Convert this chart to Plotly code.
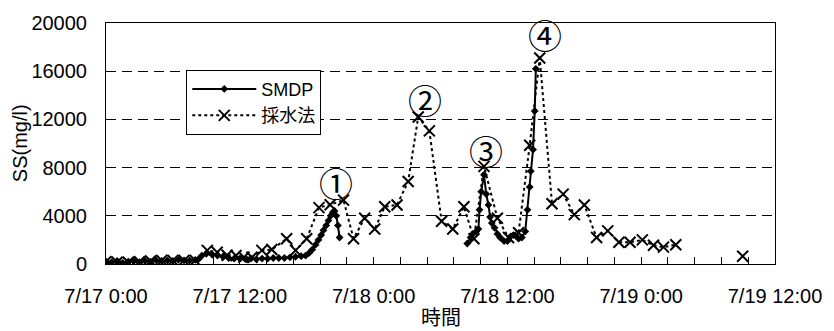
import plotly.graph_objects as go

# ---- data (hours from 7/17 0:00) ----
smdp_t = [0.0, 0.5, 1.0, 1.5, 2.0, 2.5, 3.0, 3.5, 4.0, 4.5, 5.0, 5.5, 6.0, 6.5, 7.0, 7.5,
          8.0, 8.3, 8.6, 9.0, 9.5, 10.0, 10.5, 11.0, 11.5, 12.0, 12.5, 13.0, 13.5, 14.0,
          14.5, 15.0, 15.5, 16.0, 16.5, 17.0, 17.5, 17.9, 18.2, 18.5, 18.8, 19.05, 19.3,
          19.5, 19.75, 19.95, 20.15, 20.35, 20.5, 20.65, 20.8, 20.95,
          None,
          32.4, 32.7, 32.9, 33.2, 33.4, 33.5, 33.65, 33.9, 34.1, 34.3, 34.45, 34.6, 34.85,
          35.1, 35.35, 35.7, 36.0, 36.3, 36.7, 37.0, 37.3, 37.6, 37.8, 38.0, 38.1, 38.3,
          38.45, 38.55]
smdp_v = [200, 150, 250, 100, 200, 250, 150, 250, 200, 300, 250, 300, 250, 350, 300, 300,
          350, 400, 700, 850, 800, 700, 600, 500, 450, 450, 400, 450, 400, 450,
          450, 500, 500, 500, 550, 600, 650, 700, 900, 1200, 1600, 2000, 2400,
          2800, 3200, 3600, 4000, 4300, 4400, 4000, 3200, 2200,
          None,
          1700, 2200, 2500, 2700, 2900, 4500, 6000, 7400, 5800, 4900, 3900, 3400, 3000,
          2500, 2200, 1900, 1900, 2300, 2400, 2100, 2200, 2700, 4500, 6400, 7700, 9500,
          12700, 16200]

saisui_t = [0, 1, 2, 3, 4, 5, 6, 7, 8, 9.08, 9.97, 10.86, 11.66, 12.37, 13.09, 13.98,
            14.87, 16.2, 17.0, 18.0, 19.1, 20.1, 21.3, 22.2, 23.2, 24.1, 25.0, 26.1, 27.1,
            28.0, 29.0, 30.1, 31.1, 32.1, 33.0, 33.9, 35.1, 36.1, 37.0, 38.0, 38.9, 40.0,
            41.0, 42.0, 42.9, 44.0, 45.0, 46.0, 47.0, 48.1, 49.1, 50.0, 51.1, None, 57.1]
saisui_v = [200, 150, 150, 200, 250, 300, 300, 300, 300, 1130, 970, 730, 700, 560, 560, 1130,
            1200, 2100, 1130, 2100, 4680, 4920, 5300, 2100, 3800, 2900, 4750, 4900, 6850,
            12200, 11050, 3550, 2900, 4750, 2100, 8100, 3800, 2200, 2600, 9850, 17100, 5000,
            5800, 4100, 4900, 2200, 2750, 1800, 1800, 2000, 1550, 1400, 1600, None, 650]

x_tickvals = [0, 12, 24, 36, 48, 60]
x_ticktext = ["7/17 0:00", "7/17 12:00", "7/18 0:00", "7/18 12:00", "7/19 0:00", "7/19 12:00"]
y_tickvals = [0, 4000, 8000, 12000, 16000, 20000]
y_ticktext = ["0", "4000", "8000", "12000", "16000", "20000"]

peak_labels = ["①", "②", "③", "④"]
peak_x = [20.65, 28.6, 34.1, 39.35]
peak_y = [6770, 13630, 9440, 19030]

FONT = "Liberation Sans, Arial, Noto Sans CJK JP, sans-serif"
CJK = "Noto Sans CJK JP, sans-serif"

fig = go.Figure()
fig.add_trace(go.Scatter(
    x=smdp_t, y=smdp_v, name="SMDP", mode="lines+markers",
    line=dict(color="black", width=2),
    marker=dict(symbol="diamond", size=6, color="black"),
))
fig.add_trace(go.Scatter(
    x=saisui_t, y=saisui_v, name="採水法", mode="lines+markers",
    line=dict(color="black", width=2, dash="dot"),
    marker=dict(symbol="x-thin", size=11, line=dict(color="black", width=2), color="black"),
))

for t, px, py in zip(peak_labels, peak_x, peak_y):
    fig.add_annotation(x=px, y=py, text=t, showarrow=False, yanchor="middle", xanchor="center",
                       font=dict(family=CJK, size=34, color="black"))

fig.add_annotation(x=0.5, y=-0.218, xref="paper", yref="paper", text="時間",
                   xanchor="center", yanchor="middle",
                   showarrow=False, font=dict(family=CJK, size=20, color="black"))
fig.add_annotation(x=-0.129, y=0.5, xref="paper", yref="paper", text="SS(mg/l)",
                   xanchor="center", yanchor="middle",
                   textangle=-90, showarrow=False, font=dict(family=FONT, size=20, color="black"))

fig.update_layout(
    width=834, height=331,
    margin=dict(l=106, r=54, t=16, b=67),
    paper_bgcolor="white", plot_bgcolor="white",
    font=dict(family=FONT, size=20, color="black"),
    showlegend=True,
    legend=dict(x=0.12, y=0.806, xanchor="left", yanchor="top",
                bordercolor="black", borderwidth=1, bgcolor="white",
                font=dict(family=FONT, size=18), itemwidth=64, tracegroupgap=0),
)
fig.update_xaxes(
    range=[0, 60], tickvals=x_tickvals, ticktext=x_ticktext,
    ticks="inside", ticklen=7, tickcolor="black", tickwidth=1,
    showline=True, mirror=True, linecolor="black", linewidth=1,
    showgrid=False, zeroline=False, ticklabelstandoff=14,
    minor=dict(tick0=0, dtick=2.4, ticks="inside", ticklen=7, tickcolor="black", showgrid=False),
)
fig.update_yaxes(
    range=[0, 20000], tickvals=y_tickvals, ticktext=y_ticktext,
    showline=True, mirror=True, linecolor="black", linewidth=1,
    showgrid=True, gridcolor="black", gridwidth=1, griddash="10px,6px",
    zeroline=False, ticks="", ticklabelstandoff=14,
)

fig.write_html("out.html")
